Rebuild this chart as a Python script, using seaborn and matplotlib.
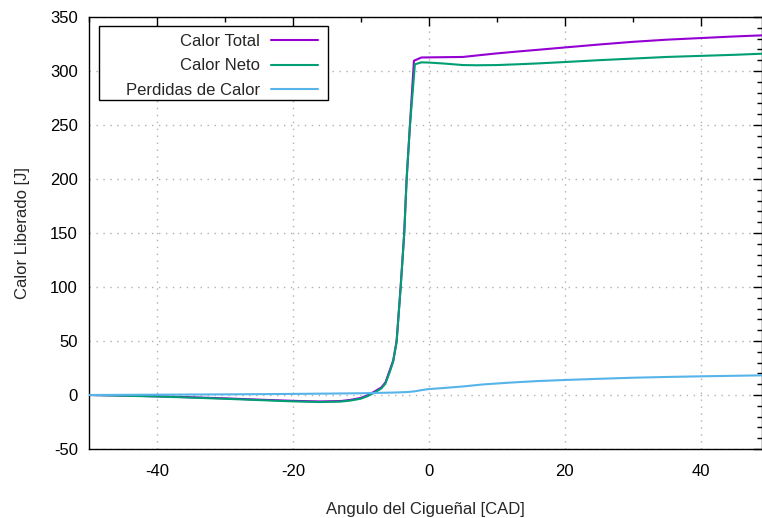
import matplotlib
matplotlib.use("Agg")
import matplotlib.pyplot as plt
from matplotlib.patches import Rectangle
from matplotlib.ticker import MultipleLocator
import numpy as np
import pandas as pd
import seaborn as sns

# Crank angle [CAD] and heat released [J]
angle_total = [-50, -45, -40, -35, -30, -25, -20, -16, -13, -11.6, -10, -9, -8, -7,
               -6.4, -5.75, -5.25, -4.75, -4.16, -3.63, -3.28, -2.79, -2.2, -1.1,
               0, 5, 8, 10, 13, 16, 20, 25, 30, 35, 40, 45, 49]
calor_total = [0, -0.5, -1.2, -2.1, -3.1, -4.3, -5.4, -6.0, -5.6, -4.6, -2.7, -0.2, 3.2, 7,
               11.5, 23, 32, 50, 100, 150, 200, 250, 309.5, 312.5,
               312.6, 313, 315, 316.3, 318, 319.6, 321.8, 324.5, 327, 329, 330.5, 332, 333]

angle_neto = [-50, -45, -40, -35, -30, -25, -20, -16, -13, -11.6, -10, -9, -8, -7,
              -6.4, -5.75, -5.25, -4.75, -4.16, -3.63, -3.28, -2.79, -2.06, -1.1,
              0, 2, 5, 7, 10, 13, 16, 20, 25, 30, 35, 40, 45, 49]
calor_neto = [0, -0.6, -1.4, -2.4, -3.5, -4.7, -5.9, -6.5, -6.1, -5.2, -3.4, -1.0, 2.3, 6,
              10.5, 21.5, 31, 49, 99, 149, 199, 249, 306.2, 308,
              307.8, 307, 305.5, 305.3, 305.5, 306.2, 307, 308.3, 310, 311.5, 313, 314, 315, 316]

angle_perd = [-50, -40, -30, -20, -10, -5, -3, -2, -1, 0, 2, 5, 8, 12, 16, 20, 25, 30,
              35, 40, 45, 49]
perdidas = [0, 0.3, 0.6, 1.0, 1.6, 2.3, 2.8, 3.5, 4.6, 5.5, 6.4, 7.9, 9.8, 11.5, 12.9,
            13.9, 15, 16, 16.7, 17.3, 17.8, 18.2]

series_names = ["Calor Total", "Calor Neto", "Perdidas de Calor"]
series_colors = ["#9400d3", "#009e73", "#56b4e9"]

df = pd.concat([
    pd.DataFrame({"angulo": angle_total, "calor": calor_total, "serie": series_names[0]}),
    pd.DataFrame({"angulo": angle_neto, "calor": calor_neto, "serie": series_names[1]}),
    pd.DataFrame({"angulo": angle_perd, "calor": perdidas, "serie": series_names[2]}),
], ignore_index=True)

sns.set_style("white")
plt.rcParams["font.family"] = ["Liberation Sans", "DejaVu Sans"]
plt.rcParams["font.size"] = 12
plt.rcParams["axes.unicode_minus"] = False

fig = plt.figure(figsize=(7.62, 5.18), dpi=100)
ax = fig.add_axes([0.1168, 0.1332, 0.8832, 0.834])

sns.lineplot(data=df, x="angulo", y="calor", hue="serie", hue_order=series_names,
             palette=dict(zip(series_names, series_colors)), estimator=None,
             sort=False, linewidth=1.5, legend=False, ax=ax, zorder=3)

ax.set_xlim(-50, 49)
ax.set_ylim(-50, 350)
ax.xaxis.set_major_locator(MultipleLocator(20))
ax.xaxis.set_minor_locator(MultipleLocator(10))
ax.yaxis.set_major_locator(MultipleLocator(50))
ax.yaxis.set_minor_locator(MultipleLocator(10))
ax.tick_params(which="both", direction="in", top=True, right=True, color="black",
               width=1.0, labelsize=12, labelcolor="black")
ax.tick_params(which="major", length=6.5)
ax.tick_params(which="minor", length=3.5)
ax.tick_params(axis="x", pad=11)
ax.tick_params(axis="y", pad=8)

for s in ax.spines.values():
    s.set_color("black")
    s.set_linewidth(1.0)

ax.grid(which="major", color="#b0b0b0", linestyle=(0, (1, 4)), linewidth=1.0)
ax.set_axisbelow(True)

ax.set_xlabel("Angulo del Cigueñal [CAD]", fontsize=12, labelpad=16.5)
ax.set_ylabel("Calor Liberado [J]", fontsize=12, labelpad=14.5)

# key box with text on the left and line samples on the right
ax.add_patch(Rectangle((0.0149, 0.8079), 0.3403, 0.1713, transform=ax.transAxes,
                       facecolor="white", edgecolor="black", linewidth=1.0, zorder=4))
handles = [plt.Line2D([], [], color=c, linewidth=1.5) for c in series_colors]
leg = ax.legend(handles, series_names, loc="upper right",
                bbox_to_anchor=(0.3522, 0.980), frameon=False, markerfirst=False,
                borderpad=0, handlelength=2.8, handletextpad=0.66, labelspacing=0.57,
                fontsize=12)
leg.set_zorder(5)

fig.savefig("out.png", dpi=100)
